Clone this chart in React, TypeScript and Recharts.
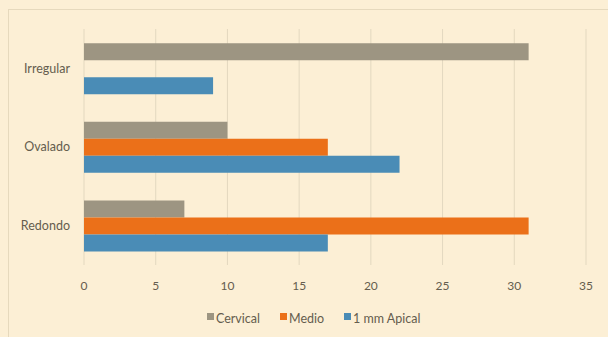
import React from 'react';
import { BarChart, Bar, XAxis, YAxis, CartesianGrid } from 'recharts';

const categories = ['Irregular', 'Ovalado', 'Redondo'];
const cervical = [31, 10, 7];
const medio = [0, 17, 31];
const apical = [9, 22, 17];
const xTicks = [0, 5, 10, 15, 20, 25, 30, 35];

const series = [
  { key: 'cervical', name: 'Cervical', color: '#9d9582' },
  { key: 'medio', name: 'Medio', color: '#eb7019' },
  { key: 'apical', name: '1 mm Apical', color: '#4a8cb6' },
];

const data = categories.map((name, i) => ({
  name,
  cervical: cervical[i],
  medio: medio[i],
  apical: apical[i],
}));

const FONT = 'Lato, "Open Sans", sans-serif';
const TEXT = '#655d4e';

// legend sits under the axis, drawn as plain html in series order
const SeriesLegend = () => (
  <div
    style={{
      position: 'absolute',
      left: 207,
      top: 311,
      display: 'flex',
      alignItems: 'center',
      fontFamily: FONT,
      fontSize: 12.5,
      color: TEXT,
    }}
  >
    {series.map((s) => (
      <div key={s.key} style={{ display: 'flex', alignItems: 'center', marginRight: 20 }}>
        <span style={{ width: 7, height: 7, background: s.color, marginRight: 2, marginTop: -4 }} />
        <span>{s.name}</span>
      </div>
    ))}
  </div>
);

export default function App() {
  return (
    <div style={{ position: 'fixed', left: 0, top: 0, width: 608, height: 337, background: '#fcefd5', overflow: 'hidden' }}>
      <div
        style={{
          position: 'absolute',
          left: 8,
          top: 9,
          width: 620,
          height: 340,
          borderLeft: '1px solid #e6d9bd',
          borderTop: '1px solid #e6d9bd',
        }}
      />
      <BarChart
        width={608}
        height={337}
        data={data}
        layout="vertical"
        margin={{ top: 29, right: 22, bottom: 42, left: 0 }}
        barCategoryGap="18%"
        barGap={0}
      >
        <CartesianGrid horizontal={false} stroke="#e3d8bf" />
        <XAxis
          type="number"
          domain={[0, 35]}
          ticks={xTicks}
          axisLine={false}
          tickLine={false}
          tickSize={0}
          tickMargin={16}
          tick={{ fill: TEXT, fontSize: 12, fontFamily: FONT }}
        />
        <YAxis
          type="category"
          dataKey="name"
          width={84}
          axisLine={false}
          tickLine={false}
          tickSize={0}
          tickMargin={14}
          tick={{ fill: TEXT, fontSize: 12.5, fontFamily: FONT }}
        />
        {series.map((s) => (
          <Bar key={s.key} dataKey={s.key} name={s.name} fill={s.color} isAnimationActive={false} />
        ))}
      </BarChart>
      <SeriesLegend />
    </div>
  );
}
